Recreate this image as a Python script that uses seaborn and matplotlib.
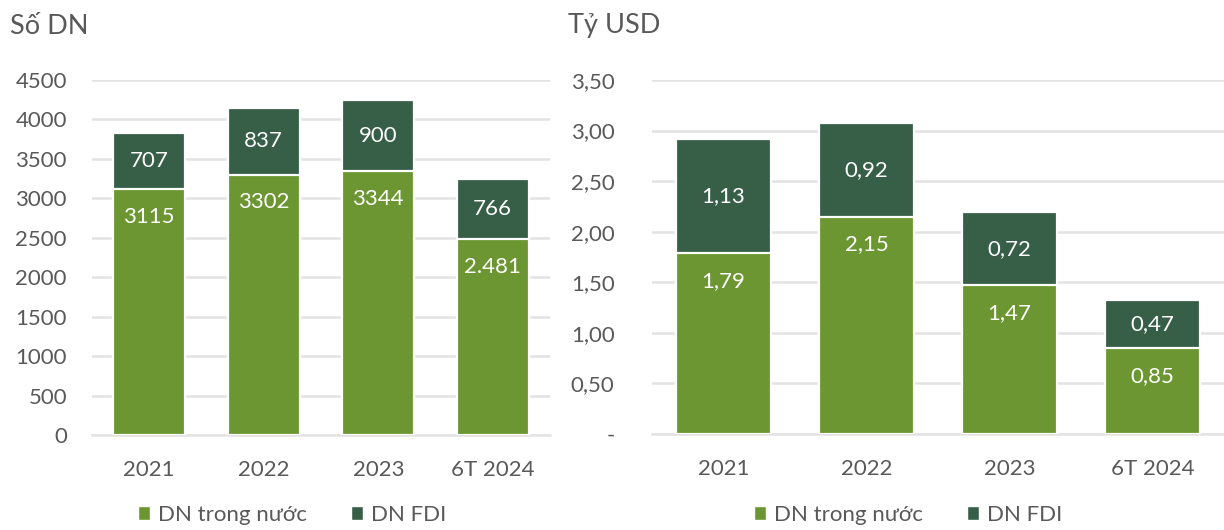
import matplotlib
matplotlib.use("Agg")
import matplotlib.pyplot as plt
from matplotlib.patches import Patch
import seaborn as sns

# Data
years = ["2021", "2022", "2023", "6T 2024"]
dn_count_domestic = [3115, 3302, 3344, 2481]
dn_count_fdi = [707, 837, 900, 766]
dn_count_domestic_labels = ["3115", "3302", "3344", "2.481"]
dn_count_fdi_labels = ["707", "837", "900", "766"]

usd_domestic = [1.79, 2.15, 1.47, 0.85]
usd_fdi = [1.13, 0.92, 0.72, 0.47]

left_yticks = [0, 500, 1000, 1500, 2000, 2500, 3000, 3500, 4000, 4500]
right_yticks = [0, 0.5, 1.0, 1.5, 2.0, 2.5, 3.0, 3.5]
right_yticklabels = ["-", "0,50", "1,00", "1,50", "2,00", "2,50", "3,00", "3,50"]

series_names = ["DN trong nước", "DN FDI"]

LIGHT = "#6B9631"
DARK = "#375F48"
GRID = "#E3E3E3"
TEXT = "#595959"

sns.set_theme(style="white")
plt.rcParams["font.family"] = ["Lato", "DejaVu Sans"]

fig = plt.figure(figsize=(12.24, 5.30), dpi=100)
ax1 = fig.add_axes([92 / 1224, 1 - 435 / 530, (550 - 92) / 1224, 355 / 530])
ax2 = fig.add_axes([652 / 1224, 1 - 434 / 530, (1224 - 652) / 1224, 354 / 530])


def stacked(ax, dom, fdi, width, dom_labels, fdi_labels):
    totals = [a + b for a, b in zip(dom, fdi)]
    sns.barplot(x=years, y=totals, color=DARK, width=width, ax=ax,
                edgecolor="white", linewidth=1.6, saturation=1, zorder=3)
    sns.barplot(x=years, y=dom, color=LIGHT, width=width, ax=ax,
                edgecolor="white", linewidth=1.6, saturation=1, zorder=3)
    for i, (d, f) in enumerate(zip(dom, fdi)):
        ax.annotate(fdi_labels[i], (i, d + f / 2), ha="center", va="center",
                    color="white", fontsize=16, zorder=5)
        ax.annotate(dom_labels[i], (i, d), xytext=(0, -20),
                    textcoords="offset points", ha="center", va="center",
                    color="white", fontsize=16, zorder=5)


stacked(ax1, dn_count_domestic, dn_count_fdi, 0.63,
        dn_count_domestic_labels, dn_count_fdi_labels)
stacked(ax2, usd_domestic, usd_fdi, 0.66,
        [f"{v:.2f}".replace(".", ",") for v in usd_domestic],
        [f"{v:.2f}".replace(".", ",") for v in usd_fdi])

ax1.set_ylim(0, 4500)
ax1.set_yticks(left_yticks)
ax1.set_yticklabels([str(v) for v in left_yticks])
ax2.set_ylim(0, 3.5)
ax2.set_yticks(right_yticks)
ax2.set_yticklabels(right_yticklabels)

for ax, ypad in ((ax1, 18), (ax2, 27)):
    ax.set_xlim(-0.5, 3.5)
    ax.set_xlabel("")
    ax.set_ylabel("")
    ax.yaxis.grid(True, color=GRID, linewidth=1.8, zorder=0)
    ax.set_axisbelow(True)
    for s in ("top", "right", "left"):
        ax.spines[s].set_visible(False)
    ax.spines["bottom"].set_color(GRID)
    ax.spines["bottom"].set_linewidth(1.8)
    ax.tick_params(axis="y", length=0, pad=ypad, labelsize=16, labelcolor=TEXT)
    ax.tick_params(axis="x", length=0, pad=18, labelsize=16, labelcolor=TEXT)

fig.text(10 / 1224, 1 - 26 / 530, "Số DN", fontsize=19.5, color=TEXT, va="center", ha="left")
fig.text(568 / 1224, 1 - 26 / 530, "Tỷ USD", fontsize=19.5, color=TEXT, va="center", ha="left")

handles = [Patch(facecolor=LIGHT), Patch(facecolor=DARK)]
for cx in (292, 908):
    fig.legend(handles, series_names, loc="center", ncol=2,
               bbox_to_anchor=(cx / 1224, 1 - 515 / 530), frameon=False,
               fontsize=16, labelcolor=TEXT, handlelength=0.55, handleheight=0.55,
               handletextpad=0.35, columnspacing=2.0)

fig.savefig("out.png", dpi=100)
